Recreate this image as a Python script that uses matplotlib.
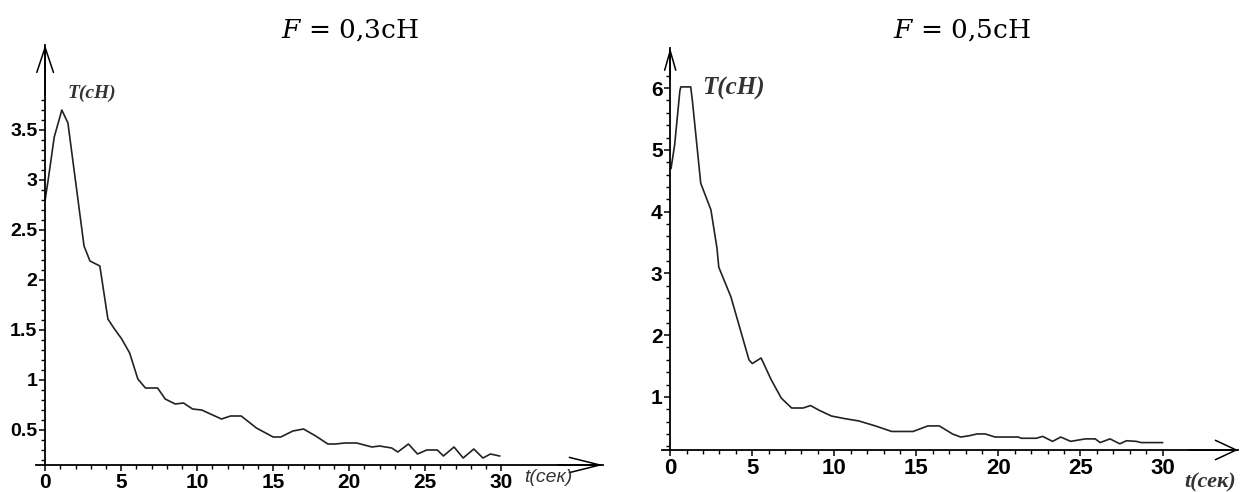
import matplotlib
matplotlib.use("Agg")
import matplotlib.pyplot as plt
from matplotlib.ticker import FixedLocator

# F = 0,3 cH
t_03 = [0, 0.2, 0.6, 1.1, 1.5, 2.56, 2.95, 3.6, 4.13, 4.52, 5.04, 5.56, 6.1, 6.6, 7.4,
        7.9, 8.56, 9.1, 9.7, 10.3, 11.6, 12.2, 12.9, 13.9, 15.0, 15.5, 16.3, 17.0,
        17.8, 18.6, 19.1, 19.7, 20.5, 21.5, 22.0, 22.8, 23.2, 23.9, 24.5, 25.1, 25.8,
        26.2, 26.9, 27.5, 28.2, 28.8, 29.3, 29.9]
T_03 = [2.8, 3.0, 3.43, 3.7, 3.57, 2.34, 2.19, 2.14, 1.61, 1.52, 1.41, 1.27, 1.01, 0.92,
        0.92, 0.81, 0.76, 0.77, 0.71, 0.70, 0.61, 0.64, 0.64, 0.52, 0.43, 0.43, 0.49,
        0.51, 0.44, 0.36, 0.36, 0.37, 0.37, 0.33, 0.34, 0.32, 0.28, 0.36, 0.26, 0.30,
        0.30, 0.24, 0.33, 0.22, 0.31, 0.22, 0.26, 0.24]

# F = 0,5 cH
t_05 = [0.05, 0.27, 0.59, 0.65, 1.25, 1.35, 1.86, 2.48, 2.85, 2.96, 3.7, 4.8, 5.0, 5.54,
        6.15, 6.77, 7.4, 8.1, 8.55, 9.1, 9.83, 10.6, 11.5, 12.5, 13.5, 14.8, 15.7, 16.4,
        17.2, 17.7, 18.2, 18.7, 19.2, 19.8, 21.2, 21.4, 22.3, 22.7, 23.3, 23.8, 24.4,
        25.3, 25.9, 26.2, 26.8, 27.4, 27.8, 28.4, 28.7, 30.0]
T_05 = [4.7, 5.08, 5.96, 6.02, 6.02, 5.8, 4.46, 4.03, 3.41, 3.1, 2.62, 1.6, 1.54, 1.63,
        1.28, 0.98, 0.82, 0.82, 0.86, 0.78, 0.69, 0.65, 0.61, 0.53, 0.44, 0.44, 0.53,
        0.53, 0.40, 0.35, 0.37, 0.40, 0.40, 0.35, 0.35, 0.33, 0.33, 0.36, 0.28, 0.35,
        0.28, 0.32, 0.32, 0.26, 0.32, 0.24, 0.29, 0.28, 0.26, 0.26]

plt.rcParams['mathtext.fontset'] = 'dejavuserif'
tick_font = ['Liberation Sans', 'DejaVu Sans']

W, H = 1240, 492
fig = plt.figure(figsize=(W / 100, H / 100), dpi=100)


def px_ax(x0, x1, y0, y1):
    # pixel box -> figure fraction box
    return [x0 / W, (H - y1) / H, (x1 - x0) / W, (y1 - y0) / H]


def setup(ax, xlim, ylim, yticks, yminor, xsize, ysize, head):
    ax.set_xlim(*xlim)
    ax.set_ylim(*ylim)
    for s in ['top', 'right']:
        ax.spines[s].set_visible(False)
    ax.spines['left'].set_position(('data', 0))
    ax.spines['left'].set_linewidth(1.3)
    ax.spines['bottom'].set_linewidth(1.3)
    ax.set_xticks(range(0, 31, 5))
    ax.xaxis.set_minor_locator(FixedLocator(range(0, 31)))
    ax.set_yticks(yticks)
    ax.yaxis.set_minor_locator(FixedLocator(yminor))
    ax.set_yticklabels([('%g' % v) for v in yticks])
    ax.tick_params(which='major', direction='out', length=4, width=1.1, pad=1.5)
    ax.tick_params(which='minor', direction='out', length=3, width=1.0)
    for lab in ax.get_xticklabels():
        lab.set_fontfamily(tick_font)
        lab.set_fontweight('bold')
        lab.set_fontsize(xsize)
    for lab in ax.get_yticklabels():
        lab.set_fontfamily(tick_font)
        lab.set_fontweight('bold')
        lab.set_fontsize(ysize)
    # arrows on the axes
    hl, hw, hl2, hw2 = head
    ax.annotate('', xy=(0, ylim[1]), xytext=(0, ylim[1] - 0.5),
                arrowprops=dict(arrowstyle='->,head_length=%g,head_width=%g' % (hl, hw),
                                lw=1.1, color='black', mutation_scale=1, shrinkA=0, shrinkB=0))
    ax.annotate('', xy=(xlim[1], ylim[0]), xytext=(xlim[1] - 3, ylim[0]),
                arrowprops=dict(arrowstyle='->,head_length=%g,head_width=%g' % (hl2, hw2),
                                lw=1.1, color='black', mutation_scale=1, shrinkA=0, shrinkB=0),
                annotation_clip=False)


ax1 = fig.add_axes(px_ax(36, 603, 45, 465))
ax1.plot(t_03, T_03, color='#222222', lw=1.2)
setup(ax1, (-0.6, 36.7), (0.15, 4.35), [0.5, 1, 1.5, 2, 2.5, 3, 3.5],
      [round(0.2 + 0.1 * i, 1) for i in range(37)], 15, 14, (18, 6, 22, 5.5))

ax2 = fig.add_axes(px_ax(662, 1238, 48, 450))
ax2.plot(t_05, T_05, color='#222222', lw=1.2)
setup(ax2, (-0.5, 34.6), (0.14, 6.65), [1, 2, 3, 4, 5, 6],
      [round(0.2 * i, 1) for i in range(1, 32)], 16, 15, (14, 4, 15, 7))

# titles
fig.text(350 / W, 1 - 30 / H, r'$F$ = 0,3сН', fontsize=19, family='DejaVu Serif',
         ha='center', va='center')
fig.text(962 / W, 1 - 30 / H, r'$F$ = 0,5сН', fontsize=19, family='DejaVu Serif',
         ha='center', va='center')

# axis labels
fig.text(68 / W, 1 - 93 / H, 'T(cH)', fontsize=14, family='Liberation Serif',
         style='italic', weight='bold', color='#333333', ha='left', va='center')
fig.text(702 / W, 1 - 88 / H, 'T(cH)', fontsize=18, family='Liberation Serif',
         style='italic', weight='bold', color='#333333', ha='left', va='center')
fig.text(524 / W, 1 - 478 / H, 't(сек)', fontsize=14, family='Liberation Sans',
         style='italic', color='#333333', ha='left', va='center')
fig.text(1184 / W, 1 - 482 / H, 't(сек)', fontsize=16, family='Liberation Serif',
         style='italic', weight='bold', color='#333333', ha='left', va='center')

fig.savefig('out.png', dpi=100)
